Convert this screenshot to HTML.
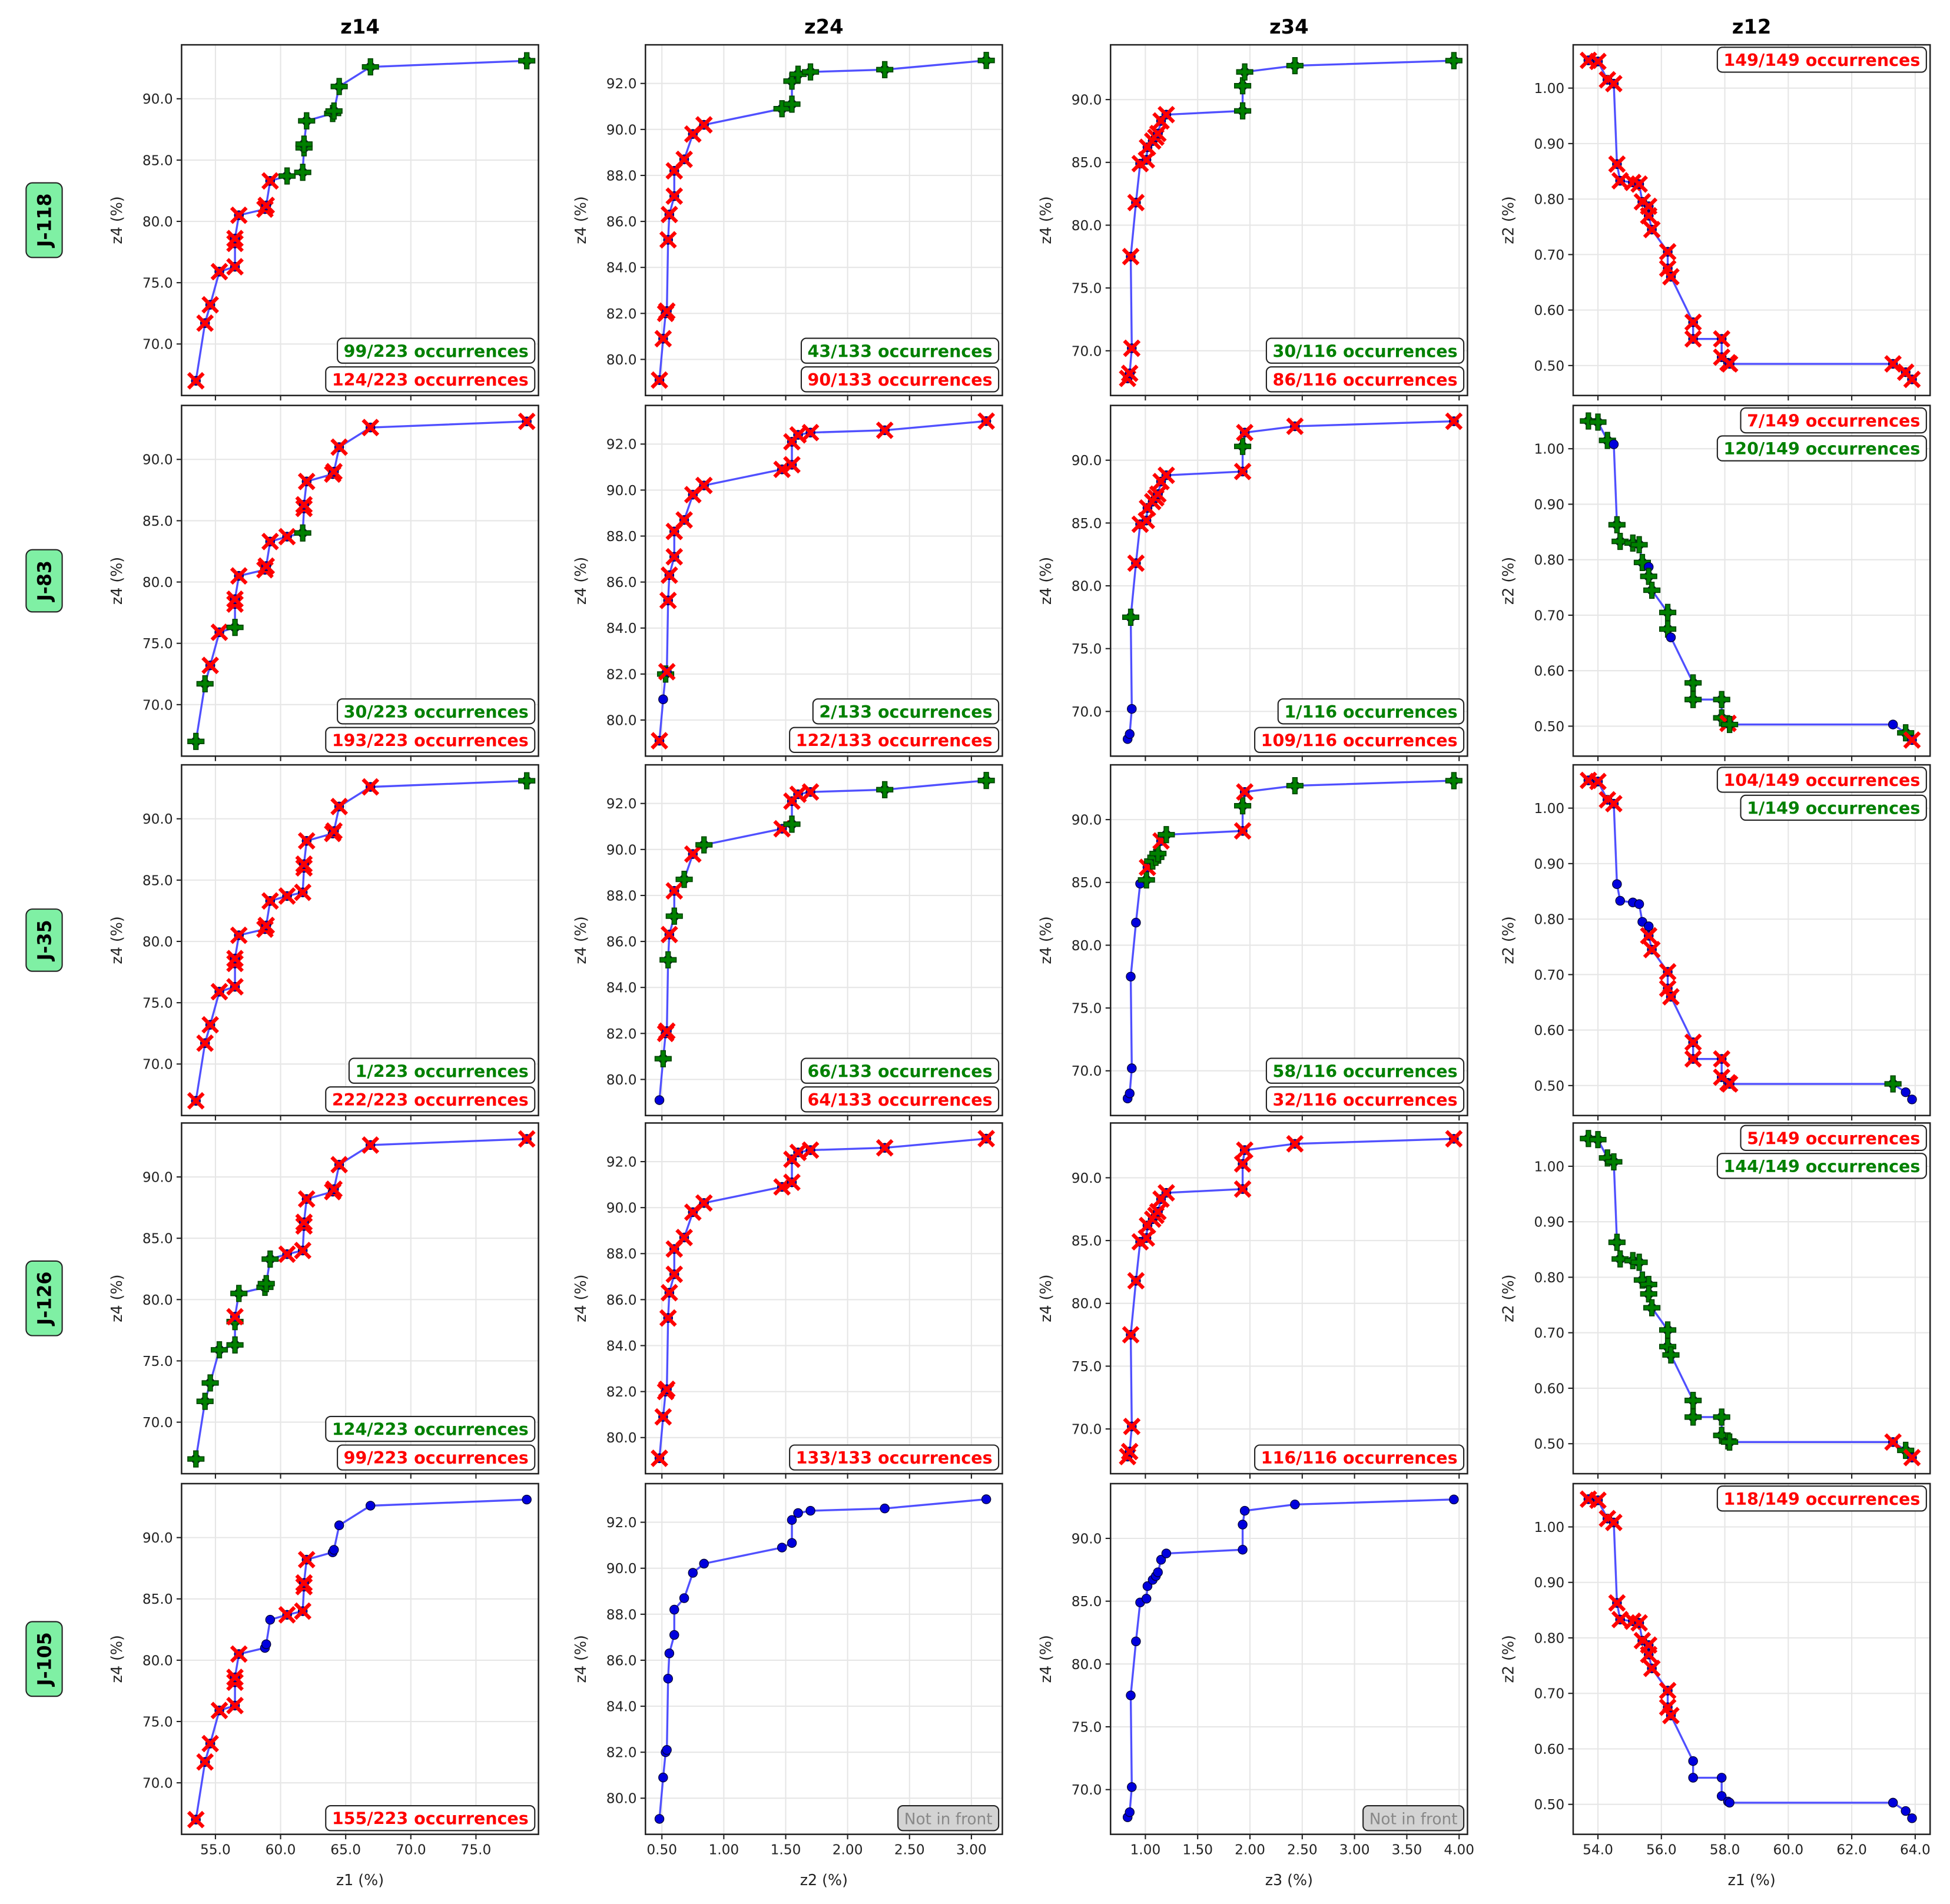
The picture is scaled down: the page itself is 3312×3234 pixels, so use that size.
<!DOCTYPE html>
<html><head><meta charset="utf-8"><style>
html,body{margin:0;padding:0;background:#fff;}
svg{display:block;font-family:"DejaVu Sans","Liberation Sans",sans-serif;}
</style></head><body>
<svg id="fig" width="3312" height="3234" viewBox="0 0 1568 1531" xmlns="http://www.w3.org/2000/svg"></svg>
<script>
// ---- data ----
const colTitles = ["z14","z24","z34","z12"];
const rowLabels = ["J-118","J-83","J-35","J-126","J-105"];
const xLabels = ["z1 (%)","z2 (%)","z3 (%)","z1 (%)"];
const yLabels = ["z4 (%)","z4 (%)","z4 (%)","z2 (%)"];

const c1x = [53.5,54.2,54.6,55.3,56.5,56.5,56.5,56.8,58.8,58.9,59.2,60.5,61.7,61.8,61.8,62.0,64.0,64.1,64.5,66.9,78.9];
const c1y = [67.0,71.7,73.2,75.9,76.3,78.2,78.6,80.5,81.0,81.3,83.3,83.7,84.0,86.0,86.3,88.2,88.8,89.0,91.0,92.6,93.1];
const c2x = [0.48,0.51,0.53,0.54,0.55,0.56,0.60,0.60,0.68,0.75,0.84,1.47,1.55,1.55,1.60,1.70,2.30,3.12];
const c2y = [79.1,80.9,82.0,82.1,85.2,86.3,87.1,88.2,88.7,89.8,90.2,90.9,91.1,92.1,92.4,92.5,92.6,93.0];
const c3x = [0.83,0.85,0.87,0.86,0.91,0.95,1.01,1.02,1.07,1.10,1.12,1.15,1.20,1.93,1.93,1.95,2.43,3.95];
const c3y = [67.8,68.2,70.2,77.5,81.8,84.9,85.2,86.2,86.7,87.0,87.3,88.3,88.8,89.1,91.1,92.2,92.7,93.1];
const c4x = [53.7,54.0,54.3,54.5,54.6,54.7,55.1,55.3,55.4,55.6,55.6,55.7,56.2,56.2,56.3,57.0,57.0,57.9,57.9,58.1,58.15,63.3,63.7,63.9];
const c4y = [1.05,1.048,1.015,1.008,0.863,0.833,0.83,0.827,0.795,0.787,0.77,0.745,0.705,0.675,0.66,0.578,0.548,0.548,0.515,0.505,0.503,0.503,0.488,0.475];

const c1ticksX = [55,60,65,70,75], c1ticksY = [70,75,80,85,90];
const c2ticksX = [0.5,1.0,1.5,2.0,2.5,3.0], c2ticksY = [80,82,84,86,88,90,92];
const c3ticksX = [1.0,1.5,2.0,2.5,3.0,3.5,4.0], c3ticksY = [70,75,80,85,90];
const c4ticksX = [54,56,58,60,62,64], c4ticksY = [0.5,0.6,0.7,0.8,0.9,1.0];

const status = [
 ["rrrrrrrrrrrgggggggggg","rrrrrrrrrrrggggggg","rrrrrrrrrrrrrggggg","rrrrrrrrrrrrrrrrrrrrrrrr"],
 ["ggrrgrrrrrrrgrrrrrrrr","rbgrrrrrrrrrrrrrrr","bbbgrrrrrrrrrrgrrr","gggbgggggbggggbggggrgbgr"],
 ["rrrrrrrrrrrrrrrrrrrrg","bgrrgrgrgrgrgrrrgg","bbbbbbgrgggrgrgrgg","rrrrbbbbbbrrrrrrrrrrrgbb"],
 ["ggggggrggggrrrrrrrrrr","rrrrrrrrrrrrrrrrrr","rrrrrrrrrrrrrrrrrr","gggggggggggggggggggggrgr"],
 ["rrrrrrrrbbbrrrrrbbbbb","bbbbbbbbbbbbbbbbbb","bbbbbbbbbbbbbbbbbb","rrrrrrrrrrrrrrrbbbbbbbbb"]
];
const boxes = [
 [[["99/223 occurrences","g"],["124/223 occurrences","r"]],[["43/133 occurrences","g"],["90/133 occurrences","r"]],[["30/116 occurrences","g"],["86/116 occurrences","r"]],[["149/149 occurrences","r"]]],
 [[["30/223 occurrences","g"],["193/223 occurrences","r"]],[["2/133 occurrences","g"],["122/133 occurrences","r"]],[["1/116 occurrences","g"],["109/116 occurrences","r"]],[["7/149 occurrences","r"],["120/149 occurrences","g"]]],
 [[["1/223 occurrences","g"],["222/223 occurrences","r"]],[["66/133 occurrences","g"],["64/133 occurrences","r"]],[["58/116 occurrences","g"],["32/116 occurrences","r"]],[["104/149 occurrences","r"],["1/149 occurrences","g"]]],
 [[["124/223 occurrences","g"],["99/223 occurrences","r"]],[["133/133 occurrences","r"]],[["116/116 occurrences","r"]],[["5/149 occurrences","r"],["144/149 occurrences","g"]]],
 [[["155/223 occurrences","r"]],[["Not in front","n"]],[["Not in front","n"]],[["118/149 occurrences","r"]]]
];

const colX = [146,519,893,1265], PW = 287;
const rowY = [36,326,615,903,1193], PH = 282;
const xDom = [[52.4,79.8],[0.367,3.25],[0.667,4.08],[53.22,64.47]];
const yDom = [[65.8,94.4],[78.43,93.68],[66.44,94.36],[0.446,1.078]];
const xs=[c1x,c2x,c3x,c4x], ys=[c1y,c2y,c3y,c4y];
const tX=[c1ticksX,c2ticksX,c3ticksX,c4ticksX], tY=[c1ticksY,c2ticksY,c3ticksY,c4ticksY];
const fmtX=[1,2,2,1], fmtY=[1,1,1,2];
const NS="http://www.w3.org/2000/svg";
const svg=document.getElementById('fig');
function mk(tag,attrs,parent){const e=document.createElementNS(NS,tag);for(const k in attrs)e.setAttribute(k,attrs[k]);(parent||svg).appendChild(e);return e;}
const colors={r:"#ff0000",g:"#008000",n:"#888888"};

for(let c=0;c<4;c++){
  const t=mk('text',{x:colX[c]+PW/2,y:27,'text-anchor':'middle','font-size':16,'font-weight':'bold'});
  
  
  t.textContent=colTitles[c];
}
for(let r=0;r<5;r++){
  const cy=rowY[r]+PH/2;
  const g=mk('g',{});
  
  
  const h=rowLabels[r].length*10+10;
  mk('rect',{x:21,y:cy-h/2,width:29,height:h,rx:5,fill:'#7ff0a4',stroke:'#222','stroke-width':1},g);
  const t=mk('text',{x:0,y:0,transform:`translate(41,${cy}) rotate(-90)`,'text-anchor':'middle','font-size':15,'font-weight':'bold'},g);
  t.textContent=rowLabels[r];
  for(let c=0;c<4;c++){
    const x0=colX[c],y0=rowY[r];
    const sx=v=>x0+(v-xDom[c][0])/(xDom[c][1]-xDom[c][0])*PW;
    const sy=v=>y0+PH-(v-yDom[c][0])/(yDom[c][1]-yDom[c][0])*PH;
    const p=mk('g',{});
    
    
    mk('rect',{x:x0,y:y0,width:PW,height:PH,fill:'#fff'},p);
    tX[c].forEach(v=>{
      const X=sx(v);
      mk('line',{x1:X,x2:X,y1:y0,y2:y0+PH,stroke:'#e6e6e6','stroke-width':1},p);
      mk('line',{x1:X,x2:X,y1:y0+PH,y2:y0+PH+4,stroke:'#222','stroke-width':1},p);
      if(r===4){const tt=mk('text',{x:X,y:y0+PH+16,'text-anchor':'middle','font-size':11,fill:'#222'},p);tt.textContent=v.toFixed(fmtX[c]);}
    });
    tY[c].forEach(v=>{
      const Y=sy(v);
      mk('line',{x1:x0,x2:x0+PW,y1:Y,y2:Y,stroke:'#e6e6e6','stroke-width':1},p);
      mk('line',{x1:x0-4,x2:x0,y1:Y,y2:Y,stroke:'#222','stroke-width':1},p);
      const tt=mk('text',{x:x0-7,y:Y+4,'text-anchor':'end','font-size':11,fill:'#222'},p);tt.textContent=v.toFixed(fmtY[c]);
    });
    const yl=mk('text',{x:0,y:0,transform:`translate(${x0-48},${y0+PH/2}) rotate(-90)`,'text-anchor':'middle','font-size':12,fill:'#222'},p);
    
    
    yl.textContent=yLabels[c];
    if(r===4){const xl=mk('text',{x:x0+PW/2,y:1516,'text-anchor':'middle','font-size':12,fill:'#222'},p);
      
      
      xl.textContent=xLabels[c];}
    const pts=xs[c].map((v,i)=>sx(v).toFixed(2)+','+sy(ys[c][i]).toFixed(2)).join(' ');
    const pl=mk('polyline',{points:pts,fill:'none',stroke:'#5050ff','stroke-width':1.6},p);
    
    
    const st=status[r][c];
    xs[c].forEach((v,i)=>{
      const X=sx(v),Y=sy(ys[c][i]);const s=st[i]||'b';
      const m=mk('g',{},p);
      
      
      mk('circle',{cx:X,cy:Y,r:3.6,fill:'#0000dd',stroke:'#000033','stroke-width':0.6},m);
      if(s==='g'){
        const a=6.5,w=1.8;
        mk('path',{d:`M${X-w},${Y-a}h${2*w}v${a-w}h${a-w}v${2*w}h${-(a-w)}v${a-w}h${-2*w}v${-(a-w)}h${-(a-w)}v${-2*w}h${a-w}z`,fill:'#008000',stroke:'#004400','stroke-width':0.8},m);
      } else if(s==='r'){
        const a=6;
        mk('path',{d:`M${X-a},${Y-a}L${X+a},${Y+a}M${X-a},${Y+a}L${X+a},${Y-a}`,stroke:'#ff0000','stroke-width':3,fill:'none'},m);
      }
    });
    mk('rect',{x:x0,y:y0,width:PW,height:PH,fill:'none',stroke:'#222','stroke-width':1.2},p);
    const bl=boxes[r][c];const n=bl.length;
    bl.forEach((b,k)=>{
      let cyb;
      if(c===3) cyb=y0+12+k*22.5; else cyb=y0+PH-13-(n-1-k)*23;
      const bg=mk('g',{},p);
      
      
      const rect=mk('rect',{x:0,y:cyb-10,width:10,height:20,rx:4,fill:b[1]==='n'?'#d3d3d3':'#fff',stroke:'#222','stroke-width':1},bg);
      const tt=mk('text',{x:x0+PW-8,y:cyb+5,'text-anchor':'end','font-size':b[1]==='n'?12.5:13.5,'font-weight':b[1]==='n'?'normal':'bold',fill:colors[b[1]]},bg);
      tt.textContent=b[0];
      const w=tt.getComputedTextLength()+10;
      rect.setAttribute('x',x0+PW-3-w);
      rect.setAttribute('width',w);
    });
  }
}
</script>
</body></html>
